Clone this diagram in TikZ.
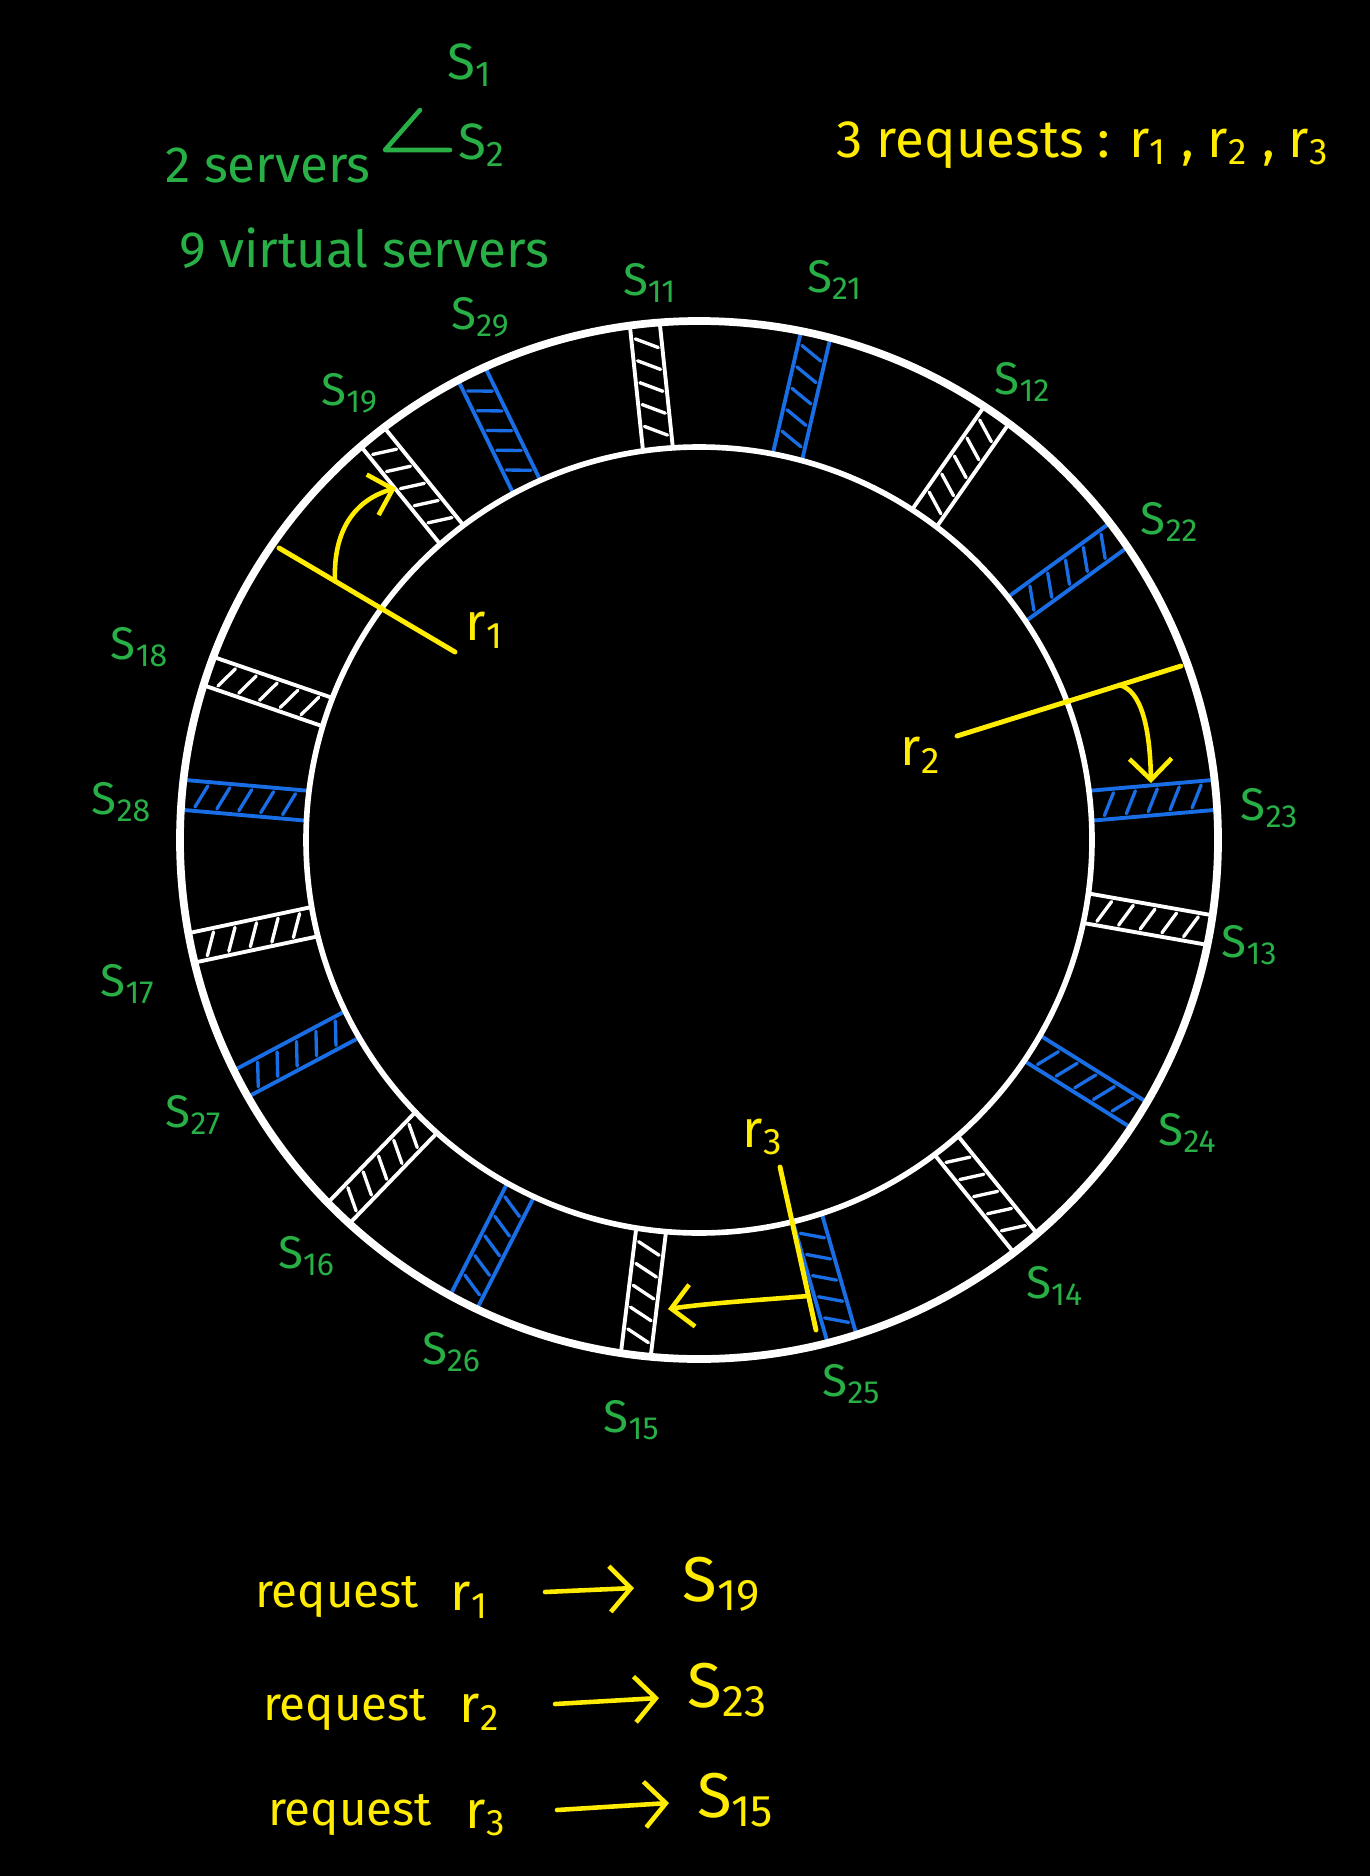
\documentclass[tikz,border=0pt]{standalone}
\usepackage{fontspec}
\setmainfont{Fira Sans}
\usetikzlibrary{arrows.meta}
\definecolor{ringblue}{RGB}{25,110,230}
\definecolor{labgreen}{RGB}{40,175,70}
\definecolor{reqyellow}{RGB}{255,236,0}
\newcommand{\fsz}[1]{\fontsize{#1}{#1}\selectfont}
\tikzset{
  slotline/.style={line width=1.1pt, line cap=round},
  hatchline/.style={line width=0.95pt, line cap=round},
  slab/.style={text=labgreen, font=\fsz{13}, inner sep=1pt},
  titletext/.style={text=labgreen, font=\fsz{14.5}, inner sep=1pt},
  ylab/.style={text=reqyellow, font=\fsz{15}, inner sep=1pt},
  reqword/.style={text=reqyellow, font=\fsz{13.5}, inner sep=1pt},
  biglab/.style={text=reqyellow, font=\fsz{18}, inner sep=1pt},
  greenline/.style={draw=labgreen, line width=1.3pt, line cap=round, line join=round},
  hashline/.style={draw=reqyellow, line width=1.4pt, line cap=round},
  reqarrow/.style={draw=reqyellow, line width=1.3pt, line cap=round,
    -{Straight Barb[length=6pt,width=12pt]}},
  listarrow/.style={draw=reqyellow, line width=1.3pt, line cap=round,
    -{Straight Barb[length=6pt,width=13pt]}}
}
\newcommand{\hashslot}[3]{%
  \begin{scope}[rotate=#2]
    \draw[slotline, draw=#3] (393,-15) -- (519,-15);
    \draw[slotline, draw=#3] (393,15) -- (519,15);
    \foreach \hx in {412,434,456,478,500}
      \draw[hatchline, draw=#3] (\hx+5,-11) -- (\hx-6,11);
    \coordinate (#1) at (456,0);
  \end{scope}}
\begin{document}
\begin{tikzpicture}[x=0.01cm, y=-0.01cm]
\fill[black] (0,0) rectangle (1370,1876);
\useasboundingbox (0,0) rectangle (1370,1876);

% header texts
\node[titletext] (tS1) at (470,65) {S\textsubscript{1}};
\node[titletext] (tS2) at (482,145) {S\textsubscript{2}};
\coordinate (lt) at (420,110);
\coordinate (lv) at (385,150);
\coordinate (lr) at (450,150);
\draw[greenline] (lt) -- (lv) -- (lr);
\node[titletext] (tserv) at (268,165) {2 servers};
\node[titletext] (tvirt) at (364,248) {9 virtual servers};
\node[ylab] (treq) at (1083,145) {3 requests : r\textsubscript{1} , r\textsubscript{2} , r\textsubscript{3}};

% ring with virtual servers
\begin{scope}[shift={(699,840)}]
  \hashslot{s11}{96}{white}
  \hashslot{s21}{77}{ringblue}
  \hashslot{s12}{55}{white}
  \hashslot{s22}{36}{ringblue}
  \hashslot{s23}{5}{ringblue}
  \hashslot{s13}{-10}{white}
  \hashslot{s24}{-32}{ringblue}
  \hashslot{s14}{-51}{white}
  \hashslot{s25}{-74}{ringblue}
  \hashslot{s15}{-97}{white}
  \hashslot{s26}{-117}{ringblue}
  \hashslot{s16}{-134}{white}
  \hashslot{s27}{-152}{ringblue}
  \hashslot{s17}{-168}{white}
  \hashslot{s28}{175}{ringblue}
  \hashslot{s18}{161}{white}
  \hashslot{s19}{129}{white}
  \hashslot{s29}{116}{ringblue}
  \draw[white, line width=2.2pt] (0,0) circle[radius=519];
  \draw[white, line width=1.6pt] (0,0) circle[radius=393];
\end{scope}

% slot labels
\node[slab] (l11) at (650,283) {S\textsubscript{11}};
\node[slab] (l21) at (835,280) {S\textsubscript{21}};
\node[slab] (l29) at (481,317) {S\textsubscript{29}};
\node[slab] (l12) at (1023,382) {S\textsubscript{12}};
\node[slab] (l19) at (350,393) {S\textsubscript{19}};
\node[slab] (l22) at (1170,522) {S\textsubscript{22}};
\node[slab] (l18) at (140,647) {S\textsubscript{18}};
\node[slab] (l28) at (122,802) {S\textsubscript{28}};
\node[slab] (l23) at (1270,808) {S\textsubscript{23}};
\node[slab] (l13) at (1250,945) {S\textsubscript{13}};
\node[slab] (l17) at (128,984) {S\textsubscript{17}};
\node[slab] (l27) at (194,1115) {S\textsubscript{27}};
\node[slab] (l24) at (1188,1133) {S\textsubscript{24}};
\node[slab] (l16) at (307,1256) {S\textsubscript{16}};
\node[slab] (l14) at (1055,1286) {S\textsubscript{14}};
\node[slab] (l26) at (452,1352) {S\textsubscript{26}};
\node[slab] (l25) at (852,1384) {S\textsubscript{25}};
\node[slab] (l15) at (632,1420) {S\textsubscript{15}};

% request r1
\coordinate (h1a) at (279,548);
\coordinate (h1b) at (455,652);
\coordinate (h1m) at (335,581);
\coordinate (t19) at (396,488);
\draw[hashline] (h1a) -- (h1b);
\draw[reqarrow] (h1m) .. controls (333,530) and (355,500) .. (t19);
\node[ylab] (r1) at (485,630) {r\textsubscript{1}};

% request r2
\coordinate (h2a) at (957,736);
\coordinate (h2b) at (1181,666);
\coordinate (h2m) at (1119,685);
\coordinate (t23) at (1151,783);
\draw[hashline] (h2a) -- (h2b);
\draw[reqarrow] (h2m) .. controls (1142,690) and (1150,730) .. (t23);
\node[ylab] (r2) at (921,755) {r\textsubscript{2}};

% request r3
\coordinate (h3a) at (780,1167);
\coordinate (h3b) at (816,1330);
\coordinate (h3m) at (808,1296);
\coordinate (t15) at (668,1309);
\draw[hashline] (h3a) -- (h3b);
\draw[reqarrow] (h3m) .. controls (760,1300) and (710,1303) .. (t15);
\node[ylab] (r3) at (763,1137) {r\textsubscript{3}};

% mapping list
\node[reqword] (q1) at (337,1597) {request};
\node[ylab] (q1r) at (470,1600) {r\textsubscript{1}};
\node[biglab] (q1s) at (722,1584) {S\textsubscript{19}};
\coordinate (a1s) at (545,1592);
\coordinate (a1e) at (634,1588);
\draw[listarrow] (a1s) -- (a1e);

\node[reqword] (q2) at (345,1710) {request};
\node[ylab] (q2r) at (480,1712) {r\textsubscript{2}};
\node[biglab] (q2s) at (728,1690) {S\textsubscript{23}};
\coordinate (a2s) at (555,1704);
\coordinate (a2e) at (659,1698);
\draw[listarrow] (a2s) -- (a2e);

\node[reqword] (q3) at (350,1815) {request};
\node[ylab] (q3r) at (486,1818) {r\textsubscript{3}};
\node[biglab] (q3s) at (736,1800) {S\textsubscript{15}};
\coordinate (a3s) at (557,1810);
\coordinate (a3e) at (669,1803);
\draw[listarrow] (a3s) -- (a3e);
\end{tikzpicture}
\end{document}
